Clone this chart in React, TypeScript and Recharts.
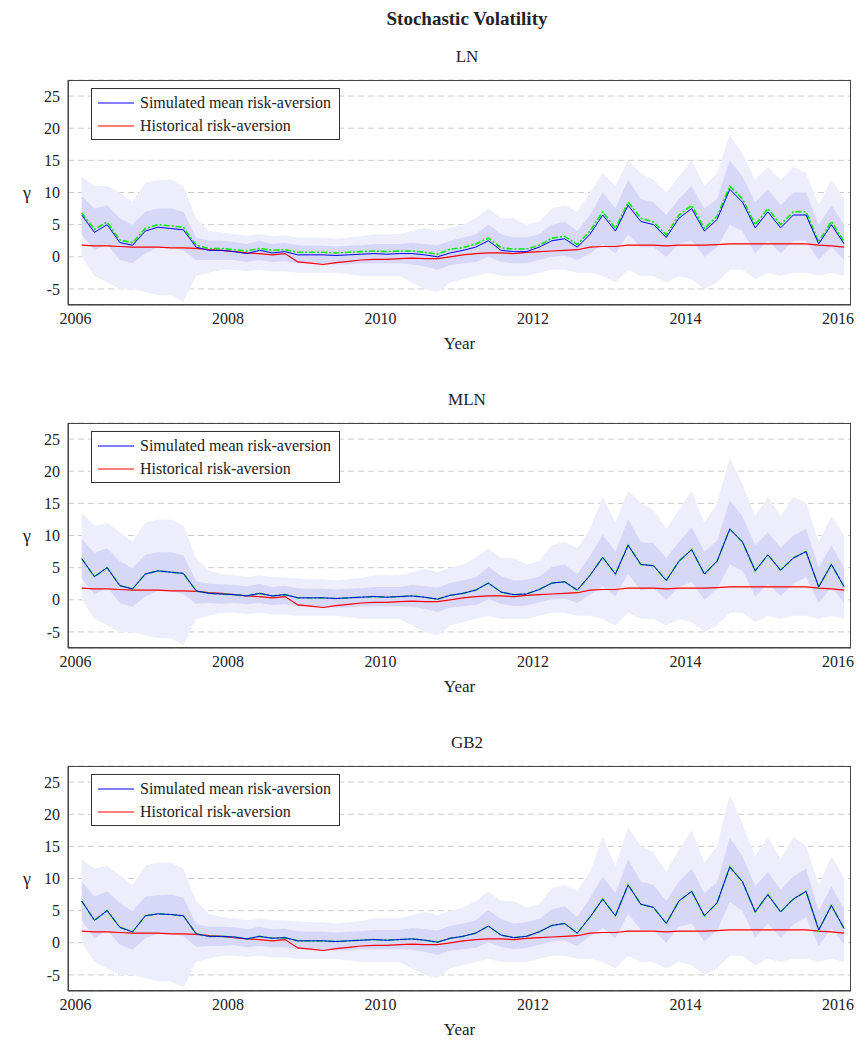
import React from "react";
import { ComposedChart, Area, Line, XAxis, YAxis, CartesianGrid } from "recharts";

const years = Array.from({ length: 61 }, (_, i) => 2006.08 + i / 6);
const xTicks = [2006, 2008, 2010, 2012, 2014, 2016];
const yTicks = [-5, 0, 5, 10, 15, 20, 25];

const histLN = [1.8,1.7,1.7,1.6,1.5,1.5,1.5,1.4,1.4,1.3,1.1,1.0, 0.8,0.6,0.5,0.3,0.5,-0.8, -1.0,-1.2,-0.9,-0.7,-0.5,-0.4, -0.4,-0.3,-0.2,-0.3,-0.3,0.0, 0.3,0.5,0.6,0.6,0.5,0.7, 0.8,0.9,1.0,1.1,1.5,1.6, 1.6,1.8,1.8,1.8,1.7,1.8, 1.8,1.8,1.9,2.0,2.0,2.0, 2.0,2.0,2.0,2.0,1.8,1.7, 1.5];
const meanLN = [6.5,3.8,5.0,2.2,1.8,4.0,4.6,4.4,4.2,1.5,1.0,1.0, 0.8,0.5,1.0,0.6,0.8,0.3, 0.3,0.3,0.2,0.3,0.4,0.5, 0.4,0.5,0.5,0.3,0.0,0.6, 1.0,1.5,2.5,1.0,0.8,0.8, 1.5,2.5,2.8,1.5,3.5,6.5, 4.0,8.0,5.5,5.0,3.0,6.0, 7.5,4.0,5.8,10.5,8.5,4.5, 7.0,4.5,6.5,6.5,2.0,5.0, 2.0];
const medLN = [6.8,4.3,5.4,2.6,2.2,4.4,5.0,4.8,4.6,1.8,1.3,1.3, 1.1,0.9,1.3,1.0,1.1,0.7, 0.7,0.7,0.6,0.7,0.8,0.9, 0.8,0.9,0.9,0.7,0.4,1.2, 1.4,2.0,2.9,1.4,1.2,1.2, 1.8,2.9,3.2,1.9,4.0,7.0, 4.4,8.5,6.0,5.4,3.4,6.5, 8.0,4.4,6.3,11.0,9.0,5.0, 7.5,5.0,7.0,7.0,2.3,5.5, 2.3];
const innerHiLN = [9.5,7.5,8,6,5,7,7.5,7.5,7,3,2.5,2.5, 2.3,2,2.5,2,2.2,1.8, 1.7,1.7,1.6,1.7,1.8,2, 2,2,2.2,2,1.8,2.5, 3,3.5,5,3.5,3,3, 3.5,5,5.5,4,6.5,10, 7.5,12,9,8.5,6.5,9, 11,7.5,9,15,12.5,8.5, 10.5,8,10,10,5,8, 5];
const innerLoLN = [3.5,1,2,-0.5,-1,0.5,1.5,1.5,1,-0.5,-0.5,-0.5, -0.5,-0.8,-0.5,-0.8,-0.7,-1, -1,-1.2,-1.2,-1.2,-1,-1, -1,-1,-1.2,-1.5,-2,-1.3, -1,-0.8,0,-0.8,-1,-1, -0.5,0,0.2,-0.5,0.5,2, 0.5,3.5,1.5,1.5,0,2, 2.5,0,1.5,5,4,0.5, 2.5,0.5,2.5,2.5,-0.5,1.5, -0.5];
const outerHiLN = [12.5,11,11,10,8.5,11.5,12,12,11,6,4,3.8, 3.5,3.3,3.5,3.2,3.3,3, 3,3,2.8,3,3.2,3.5, 3.5,3.5,4,4.5,4,4.5, 5,6,7.5,6,6,5, 5.5,7.5,8,7,10,13, 11,15,13,12,10,12.5, 15,11,13,19,16,12, 14,12,14,13,8,12, 9];
const outerLoLN = [0,-3,-4,-5,-5,-5.5,-6,-6,-7,-3,-2.5,-2, -2,-2.2,-2,-2.3,-2.3,-2.5, -2.5,-2.5,-2.5,-2.7,-3,-3, -3,-3,-4,-5,-5.5,-4, -3.5,-3,-2.5,-3,-3,-3, -2.5,-2,-2,-2.5,-2.5,-3, -4,-2,-3,-3,-4,-3, -3.5,-5,-4,-2,-2,-3.5, -2.5,-3,-2.5,-2.5,-3,-2.5, -3];

const meanMLN = [6.4,3.6,5.0,2.2,1.7,4.0,4.5,4.3,4.1,1.4,1.0,0.9, 0.8,0.6,1.0,0.6,0.8,0.3, 0.3,0.3,0.2,0.3,0.4,0.5, 0.4,0.5,0.6,0.4,0.1,0.7, 1.0,1.5,2.6,1.2,0.8,0.9, 1.6,2.6,2.8,1.5,3.8,6.6, 4.0,8.5,5.5,5.3,3.0,6.0, 7.8,4.0,6.0,11.0,9.0,4.5, 7.0,4.6,6.5,7.5,2.0,5.5, 2.0];
const outerHiMLN = [13.5,11.5,12,10.5,9,12,12.5,12.5,11.5,6.5,4.5,4, 3.8,3.5,3.8,3.5,3.5,3.3, 3.2,3.2,3,3.2,3.4,3.8, 3.8,3.8,4.3,4.8,4.3,5, 5.5,6.5,8,6.5,6.5,5.5, 6,8.5,9,8,11,16, 12,17,15,14,11,14, 17,12,15,22,18,13, 16,13,16,15,9,13, 10];
const meanGB2 = [6.5,3.5,5.0,2.4,1.7,4.2,4.5,4.4,4.2,1.4,1.0,1.0, 0.9,0.6,1.0,0.7,0.8,0.3, 0.3,0.3,0.2,0.3,0.4,0.5, 0.4,0.5,0.6,0.4,0.1,0.7, 1.0,1.5,2.6,1.2,0.8,1.0, 1.7,2.7,3.0,1.5,4.0,6.8, 4.2,9.0,6.0,5.5,3.0,6.5, 8.0,4.2,6.2,11.8,9.5,4.8, 7.5,4.8,6.8,8.0,2.0,5.8, 2.2];
const outerHiGB2 = [13,11.5,12,10.5,9,12,12.5,12.5,11.5,6.5,4.5,4, 3.8,3.5,3.8,3.5,3.5,3.3, 3.2,3.2,3,3.2,3.4,3.8, 3.8,3.8,4.3,4.8,4.3,5, 5.5,6.5,8,6.5,6.5,5.5, 6,8.5,9,8,11,16.5, 12,18,15,14,11,14.5, 17.5,12.5,15,23,18.5,13.5, 16.5,13,16.5,15,9,13.5, 10];

function build(mean: number[], med: number[], oHi: number[]) {
  return years.map((x, i) => ({
    x,
    mean: mean[i],
    med: med[i],
    hist: histLN[i],
    inner: [innerLoLN[i] + (mean[i] - meanLN[i]), innerHiLN[i] + (mean[i] - meanLN[i])],
    outer: [outerLoLN[i], oHi[i]],
  }));
}

const panels = [
  { title: "LN", top: 80, data: build(meanLN, medLN, outerHiLN) },
  { title: "MLN", top: 423, data: build(meanMLN, meanMLN, outerHiMLN) },
  { title: "GB2", top: 766, data: build(meanGB2, meanGB2, outerHiGB2) },
];

const font = "'Liberation Serif', 'DejaVu Serif', serif";

function Swatch({ color }: { color: string }) {
  return (
    <svg width={40} height={10} style={{ marginRight: 4 }}>
      <line x1={2} y1={5} x2={38} y2={5} stroke={color} strokeWidth={1.2} />
    </svg>
  );
}

function Panel({ title, top, data }: any) {
  return (
    <div style={{ position: "absolute", left: 0, top: top - 5 - 8, width: 858 }}>
      <div style={{ position: "absolute", top: -28, width: "100%", paddingLeft: 60, textAlign: "center", fontSize: 17, boxSizing: "border-box" }}>{title}</div>
      <ComposedChart width={858} height={280} data={data} margin={{ top: 5, right: 15, bottom: 0, left: 15 }}>
        <CartesianGrid vertical={false} strokeDasharray="6 4" stroke="#cccccc" />
        <XAxis dataKey="x" type="number" domain={[2005.9, 2016.17]} ticks={xTicks} allowDataOverflow
          tick={{ fontSize: 16, fill: "#222", fontFamily: font }} tickLine={false} stroke="#444" height={50}
          label={{ value: "Year", position: "insideBottom", offset: 6, fontSize: 17, fill: "#222", fontFamily: font }} />
        <YAxis domain={[-7.5, 27.5]} ticks={yTicks} width={45} allowDataOverflow
          tick={{ fontSize: 16, fill: "#222", fontFamily: font }} tickLine={false} stroke="#444"
          label={{ value: "γ", angle: 0, position: "insideLeft", offset: 0, fontSize: 18, fill: "#222", fontFamily: font }} />
        <Area dataKey="outer" stroke="none" fill="#ededfc" fillOpacity={1} isAnimationActive={false} />
        <Area dataKey="inner" stroke="none" fill="#d7d7f8" fillOpacity={1} isAnimationActive={false} />
        <Line dataKey="hist" stroke="#ff0000" strokeWidth={1.2} dot={false} isAnimationActive={false} />
        <Line dataKey="med" stroke="#00ee00" strokeWidth={1.6} strokeDasharray="6 2 2 2" dot={false} isAnimationActive={false} />
        <Line dataKey="mean" stroke="#0000ff" strokeWidth={1} dot={false} isAnimationActive={false} />
      </ComposedChart>
      <div style={{ position: "absolute", left: 60, top: 5, width: 783, height: 225, border: "1px solid #444", boxSizing: "border-box", pointerEvents: "none" }} />
      <div style={{ position: "absolute", left: 83, top: 13, border: "1px solid #333", background: "#fff", padding: "2px 8px 2px 4px", fontSize: 16, lineHeight: "23px" }}>
        <div style={{ display: "flex", alignItems: "center" }}><Swatch color="#0000ff" />Simulated mean risk-aversion</div>
        <div style={{ display: "flex", alignItems: "center" }}><Swatch color="#ff0000" />Historical risk-aversion</div>
      </div>
    </div>
  );
}

export default function App() {
  return (
    <div style={{ position: "relative", width: 858, height: 1030, fontFamily: font, color: "#222" }}>
      <div style={{ position: "absolute", top: 0, width: "100%", paddingLeft: 60, boxSizing: "border-box", textAlign: "center", fontWeight: "bold", fontSize: 19 }}>Stochastic Volatility</div>
      {panels.map((p) => <Panel key={p.title} {...p} />)}
    </div>
  );
}
